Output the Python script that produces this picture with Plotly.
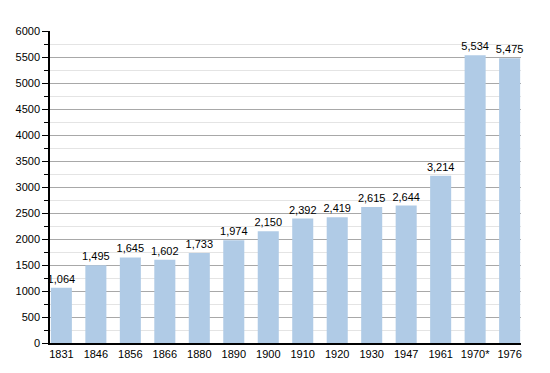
import plotly.graph_objects as go

years = ["1831", "1846", "1856", "1866", "1880", "1890", "1900", "1910", "1920", "1930", "1947", "1961", "1970*", "1976"]
population = [1064, 1495, 1645, 1602, 1733, 1974, 2150, 2392, 2419, 2615, 2644, 3214, 5534, 5475]
labels = [f"{v:,}" for v in population]
y_ticks = list(range(0, 6001, 500))

fig = go.Figure()
fig.add_trace(go.Bar(
    x=list(range(len(years))),
    y=population,
    text=labels,
    textposition="outside",
    constraintext="none",
    textfont=dict(family="Liberation Sans, Arial", size=11, color="black"),
    marker=dict(color="#b0cbe6", line=dict(width=0)),
    width=0.61,
    cliponaxis=False,
))

# page body adds an 8px offset; margins compensate for it
fig.update_layout(
    width=550, height=373,
    margin=dict(l=42, r=37, t=23, b=38, autoexpand=False),
    paper_bgcolor="white", plot_bgcolor="white",
    showlegend=False,
    font=dict(family="Liberation Sans, Arial", size=11, color="black"),
    xaxis=dict(
        tickmode="array",
        tickvals=list(range(len(years))),
        ticktext=years,
        range=[-0.33, 13.33],
        showline=True, linecolor="black", linewidth=1.5,
        showgrid=False, ticks="", zeroline=False,
        tickfont=dict(size=11, color="black"),
        automargin=False,
    ),
    yaxis=dict(
        range=[0, 6000],
        tickvals=y_ticks,
        ticktext=[str(v) for v in y_ticks],
        showline=True, linecolor="black", linewidth=1.5,
        showgrid=True, gridcolor="#a8a8a8", gridwidth=1,
        ticks="outside", ticklen=6, tickcolor="black",
        zeroline=False,
        tickfont=dict(size=11, color="black"),
        automargin=False,
        minor=dict(dtick=250, showgrid=True, gridcolor="#e4e4e4",
                   ticks="outside", ticklen=4, tickcolor="black"),
    ),
)

fig.write_html("out.html")
